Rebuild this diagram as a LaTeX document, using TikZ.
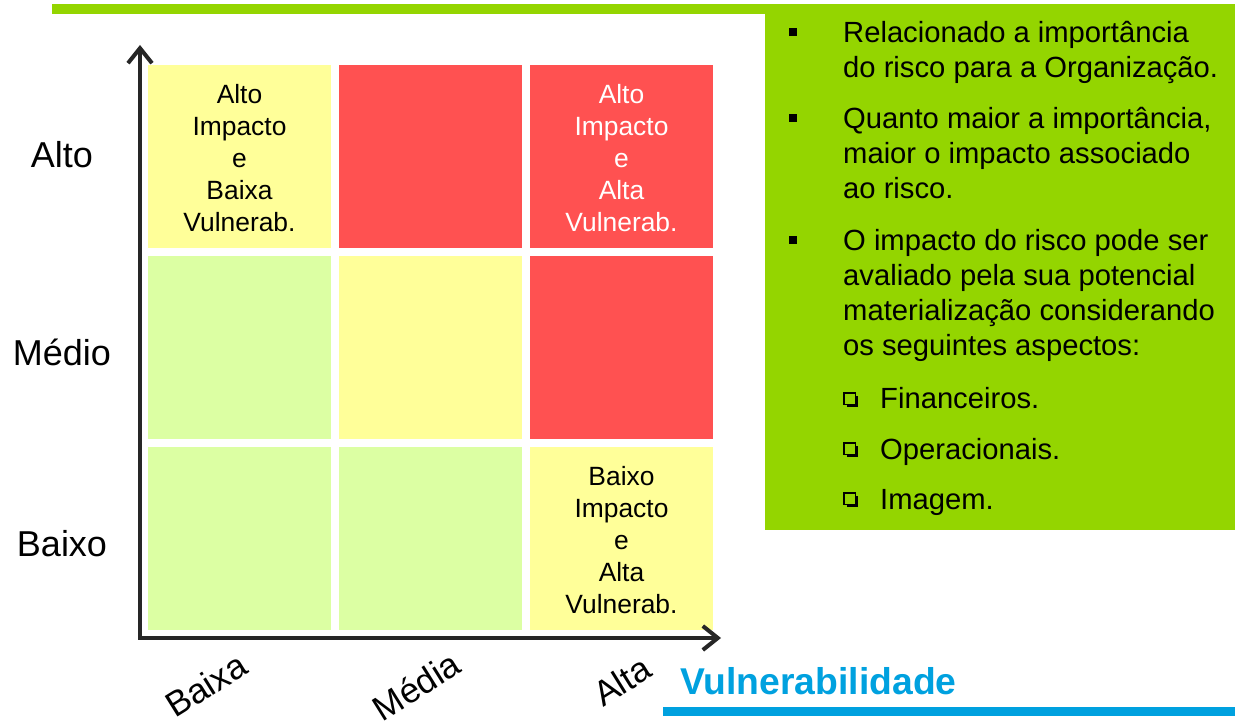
\documentclass[tikz,border=0pt]{standalone}
\usepackage{fontspec}
\setmainfont{Liberation Sans}
\usetikzlibrary{arrows.meta}
\definecolor{boxgreen}{HTML}{94D500}
\definecolor{cyel}{HTML}{FFFF99}
\definecolor{cred}{HTML}{FF5151}
\definecolor{cgrn}{HTML}{DCFFA3}
\definecolor{cblue}{HTML}{00A1DF}
\definecolor{axisc}{HTML}{262626}
\tikzset{
  cell/.style={minimum width=183pt, minimum height=183pt, inner sep=0pt, draw=none},
  celltext/.style={anchor=north, align=center, inner sep=0pt, font=\fontsize{26.4}{32}\selectfont},
  ylab/.style={anchor=base, inner sep=0pt, font=\fontsize{36}{40}\selectfont},
  xlab/.style={anchor=center, inner sep=0pt, rotate=32, font=\fontsize{35}{38}\selectfont},
  rt/.style={anchor=base west, inner sep=0pt, font=\fontsize{29.2}{35}\selectfont},
  axisline/.style={draw=axisc, line width=4pt, line join=miter,
    {Straight Barb[length=15pt, width=24pt]}-{Straight Barb[length=15pt, width=24pt]}},
}
\newcommand{\subbox}[2]{%
  \fill[black] (#1+2.5,#2+2.5) rectangle (#1+14,#2+14);
  \filldraw[fill=boxgreen, draw=black, line width=1.4pt] (#1,#2) rectangle (#1+11.5,#2+11.5);}
\begin{document}
\begin{tikzpicture}[x=1pt,y=-1pt]
\useasboundingbox (0,0) rectangle (1235,722);
% green top bar and box
\fill[boxgreen] (52,4) rectangle (1235,14);
\fill[boxgreen] (765,4) rectangle (1235,530);
% blue bar
\fill[cblue] (663,707) rectangle (1235,716);
% cells
\node[cell, fill=cyel] (c11) at (239.5,156.5) {};
\node[cell, fill=cred] (c12) at (430.5,156.5) {};
\node[cell, fill=cred] (c13) at (621.5,156.5) {};
\node[cell, fill=cgrn] (c21) at (239.5,347.5) {};
\node[cell, fill=cyel] (c22) at (430.5,347.5) {};
\node[cell, fill=cred] (c23) at (621.5,347.5) {};
\node[cell, fill=cgrn] (c31) at (239.5,538.5) {};
\node[cell, fill=cgrn] (c32) at (430.5,538.5) {};
\node[cell, fill=cyel] (c33) at (621.5,538.5) {};
% cell texts
\node[celltext] (t11) at ([yshift=-19pt]c11.north) {Alto\\Impacto\\e\\Baixa\\Vulnerab.};
\node[celltext, text=white] (t13) at ([yshift=-19pt]c13.north) {Alto\\Impacto\\e\\Alta\\Vulnerab.};
\node[celltext] (t33) at ([yshift=-19pt]c33.north) {Baixo\\Impacto\\e\\Alta\\Vulnerab.};
% axes
\coordinate (ytip) at (140,45);
\coordinate (origin) at (140,638);
\coordinate (xtip) at (721,638);
\draw[axisline] (ytip) -- (origin) -- (xtip);
% y labels
\node[ylab] (la) at (62,168) {Alto};
\node[ylab] (lm) at (62,365) {Médio};
\node[ylab] (lb) at (62,556) {Baixo};
% x labels
\node[xlab] (xb) at (206,685) {Baixa};
\node[xlab] (xm) at (416,686) {Média};
\node[xlab] (xa) at (622,681) {Alta};
\node[anchor=base west, inner sep=0pt, text=cblue, font=\fontsize{37.3}{40}\selectfont\bfseries] (vul) at (680,694) {Vulnerabilidade};
% right box bullets
\fill[black] (788.5,28.5) rectangle (796.5,36.5);
\fill[black] (788.5,114.5) rectangle (796.5,122.5);
\fill[black] (788.5,236) rectangle (796.5,244);
\node[rt] (p1a) at (843,43) {Relacionado a importância};
\node[rt] (p1b) at (843,77.5) {do risco para a Organização.};
\node[rt] (p2a) at (843,129) {Quanto maior a importância,};
\node[rt] (p2b) at (843,163.5) {maior o impacto associado};
\node[rt] (p2c) at (843,198.5) {ao risco.};
\node[rt] (p3a) at (843,250.5) {O impacto do risco pode ser};
\node[rt] (p3b) at (843,285.5) {avaliado pela sua potencial};
\node[rt] (p3c) at (843,320.5) {materialização considerando};
\node[rt] (p3d) at (843,355.5) {os seguintes aspectos:};
\subbox{844}{393}
\subbox{844}{443}
\subbox{844}{493}
\node[rt] (s1) at (880,408) {Financeiros.};
\node[rt] (s2) at (880,459) {Operacionais.};
\node[rt] (s3) at (880,509) {Imagem.};
\end{tikzpicture}
\end{document}
